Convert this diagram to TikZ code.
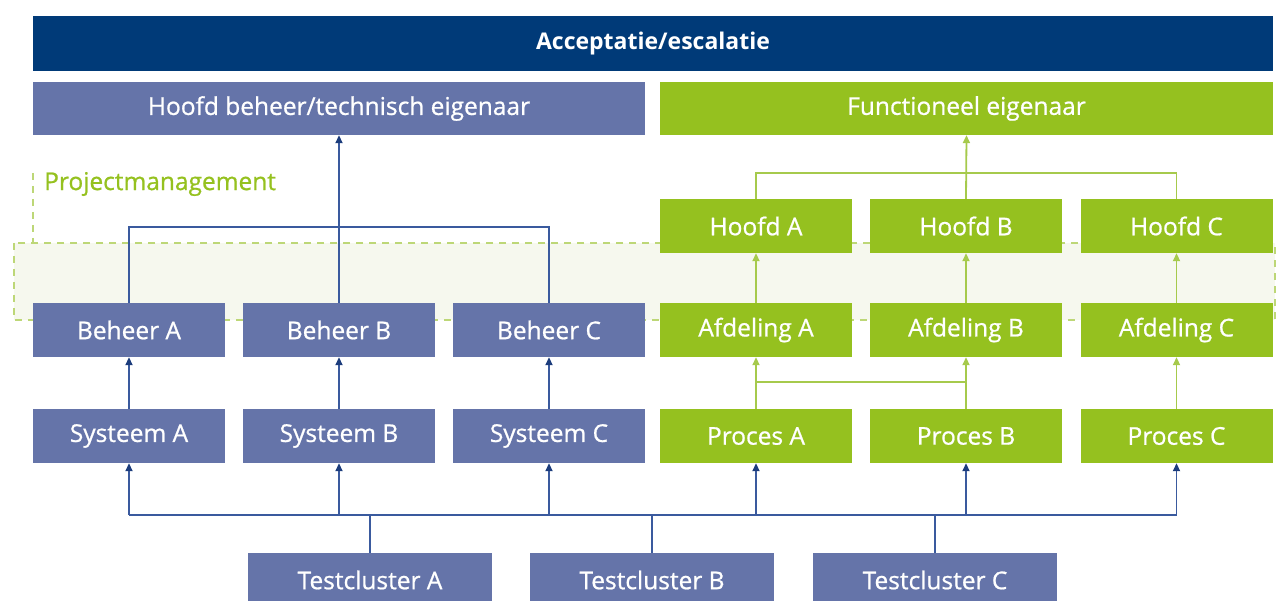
\documentclass[tikz,border=0pt]{standalone}
\usepackage{fontspec}
\setmainfont{Open Sans}
\newfontfamily\labelfont{Open Sans}[RawFeature={embolden=0.8}]
\usetikzlibrary{arrows.meta}
\definecolor{navy}{HTML}{003A78}
\definecolor{slate}{HTML}{6574A9}
\definecolor{lime}{HTML}{95C11F}
\definecolor{bline}{HTML}{3A5A9E}
\definecolor{btip}{HTML}{1C3C7C}
\definecolor{gline}{HTML}{A6CA4C}
\definecolor{dashc}{HTML}{BDD777}
\definecolor{bandc}{HTML}{F6F8EE}
\tikzset{
  box/.style={minimum width=192pt, minimum height=54pt, inner sep=0pt,
    text=white, font=\labelfont\fontsize{24.5}{28}\selectfont},
  bbox/.style={box, fill=slate},
  gbox/.style={box, fill=lime},
  bl/.style={draw=bline, line width=1.8pt},
  gl/.style={draw=gline, line width=1.8pt},
  barr/.style={bl, -{Triangle[length=8pt,width=7pt,color=btip]}},
  garr/.style={gl, -{Triangle[length=8pt,width=7pt]}},
  pm/.style={draw=dashc, line width=2pt, dash pattern=on 7pt off 6pt},
}
\begin{document}
\begin{tikzpicture}[x=1pt,y=-1pt]
\useasboundingbox (0,0) rectangle (1277,601);
\clip (0,0) rectangle (1277,601);

% project management band
\fill[bandc] (14,243) rectangle (1275,320);
\draw[pm] (14,243) rectangle (1275,320);
\draw[pm] (33,173) -- (33,243);
\node[anchor=west, text=lime, font=\labelfont\fontsize{24.5}{28}\selectfont, inner sep=0pt] (pmlabel) at (44,184) {Projectmanagement};

% top rows
\node[box, fill=navy, minimum width=1240pt, minimum height=55pt, font=\fontsize{23}{28}\selectfont\bfseries] (top) at (653,43.5) {Acceptatie/escalatie};
\node[bbox, minimum width=612pt, minimum height=53pt] (hb) at (339,108.5) {Hoofd beheer/technisch eigenaar};
\node[gbox, minimum width=613pt, minimum height=53pt] (fe) at (966.5,108.5) {Functioneel eigenaar};

% technical side
\node[bbox] (bA) at (129,330) {Beheer A};
\node[bbox] (bB) at (339,330) {Beheer B};
\node[bbox] (bC) at (549,330) {Beheer C};
\node[bbox] (sA) at (129,436) {Systeem A};
\node[bbox] (sB) at (339,436) {Systeem B};
\node[bbox] (sC) at (549,436) {Systeem C};

% functional side
\node[gbox] (hA) at (756,226) {Hoofd A};
\node[gbox] (hB) at (966,226) {Hoofd B};
\node[gbox] (hC) at (1176.5,226) {Hoofd C};
\node[gbox] (aA) at (756,330) {Afdeling A};
\node[gbox] (aB) at (966,330) {Afdeling B};
\node[gbox] (aC) at (1176.5,330) {Afdeling C};
\node[gbox] (pA) at (756,436) {Proces A};
\node[gbox] (pB) at (966,436) {Proces B};
\node[gbox] (pC) at (1176.5,436) {Proces C};

% test clusters
\node[bbox, minimum width=244pt] (tA) at (370,580) {Testcluster A};
\node[bbox, minimum width=244pt] (tB) at (652,580) {Testcluster B};
\node[bbox, minimum width=244pt] (tC) at (935,580) {Testcluster C};

% technical connectors
\draw[bl] (bA.north) -- ++(0,-76) -| (bC.north);
\draw[barr] (bB.north) -- (hb.south);
\foreach \s/\b in {sA/bA, sB/bB, sC/bC} \draw[barr] (\s.north) -- (\b.south);

% functional connectors
\draw[gl] (hA.north) -- ++(0,-26) -| (hC.north);
\draw[garr] (hB.north) -- (fe.south);
\foreach \a/\h in {aA/hA, aB/hB, aC/hC} \draw[garr] (\a.north) -- (\h.south);
\draw[garr] (pA.north) -- (aA.south);
\draw[garr] (pB.north) -- (aB.south);
\draw[garr] (pC.north) -- (aC.south);
\coordinate (link) at (0,382);
\draw[gl] (pA.north |- link) -- (pB.north |- link);

% test cluster bus
\coordinate (bus) at (0,515);
\draw[bl] (sA.south |- bus) -- (pC.south |- bus);
\foreach \t in {tA, tB, tC} \draw[bl] (\t.north) -- (\t.north |- bus);
\foreach \n in {sA, sB, sC, pA, pB, pC} \draw[barr] (\n.south |- bus) -- (\n.south);
\end{tikzpicture}
\end{document}
